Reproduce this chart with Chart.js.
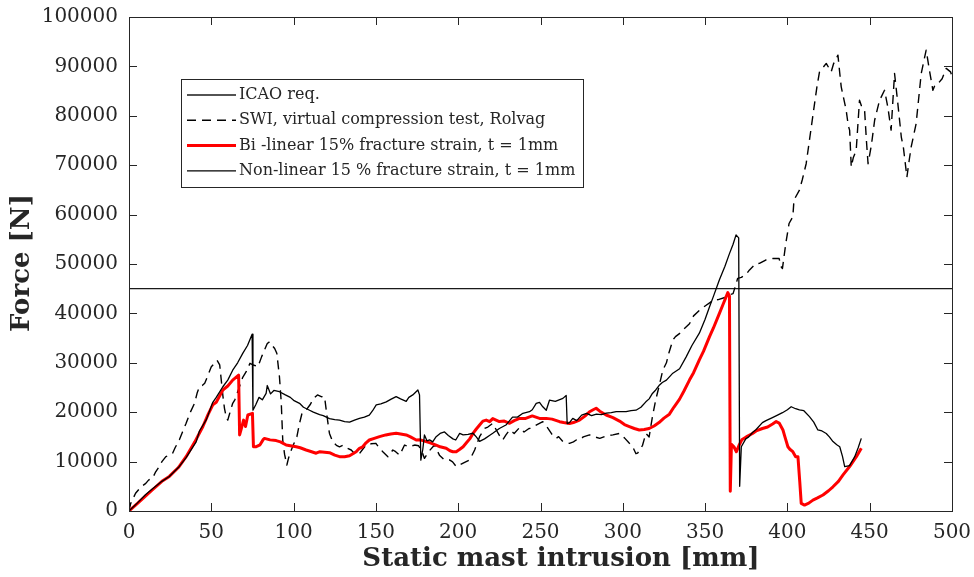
<!DOCTYPE html>
<html>
<head>
<meta charset="utf-8">
<script src="https://cdn.jsdelivr.net/npm/chart.js@4.4.1/dist/chart.umd.min.js"></script>
<style>
  html, body { margin: 0; padding: 0; background: #ffffff; }
  canvas { display: block; }
</style>
</head>
<body>
<canvas id="chart" width="974" height="577"></canvas>
<script>
// Axis ticks
const xTicks = [0, 50, 100, 150, 200, 250, 300, 350, 400, 450, 500];
const yTicks = [0, 10000, 20000, 30000, 40000, 50000, 60000, 70000, 80000, 90000, 100000];

// Axis titles
const xTitle = 'Static mast intrusion [mm]';
const yTitle = 'Force [N]';

// ICAO requirement (constant force level)
const icaoX = [0, 500];
const icaoY = [45000, 45000];

// SWI, virtual compression test, Rolvag
const swiX = [0, 1, 4, 7, 10.2, 12, 14.3, 16, 18.4, 20, 22.4, 24.5, 26.5, 28, 30.6, 32.5, 34.7, 37, 39.8, 41.5,
  42.9, 44.5, 46, 48, 50, 52, 53.5, 55.1, 57.1, 58, 59.2, 60, 61.2, 63, 64.3, 67.1, 69, 71.2, 73.5, 76,
  78.3, 80.6, 82.3, 84, 85.4, 87, 88.5, 89.8, 91.4, 92.5, 93.4, 94.5, 95.9, 97, 98.6, 100, 102, 103.6, 105.1, 107.6,
  110, 112.2, 114.5, 116.8, 118.8, 120, 121.3, 121.8, 123.8, 126, 127.9, 130, 132, 135, 138, 140, 142, 144, 147, 150,
  152, 154.2, 157.3, 160.3, 162, 164.4, 167.4, 170, 173.5, 176, 178, 179.5, 182, 185.6, 188.6, 191.7, 194.7, 196.6, 198.8, 200.6,
  203, 207, 210, 213, 216, 218, 221, 223, 225, 227, 229, 231.2, 234, 237.3, 240, 243, 244.3, 247, 251.4, 254,
  257, 259.5, 261, 263.6, 267.6, 270, 271.7, 273.7, 276, 279.8, 283, 286, 290, 294, 298, 301, 304, 306, 308, 309,
  312, 314, 316, 318, 320, 322, 324.3, 326.5, 328, 330.4, 332, 334.4, 337, 340.5, 343, 346.5, 350, 354.7, 358, 362.8,
  365, 367, 369.8, 372, 374.7, 377, 380.8, 383, 386.8, 391, 395, 396, 397, 399, 401, 403.3, 404, 407.3, 409, 411.4,
  413.4, 416.5, 418, 419.5, 421, 423.6, 425, 426.6, 428, 430.7, 432, 432.7, 435.7, 437, 437.8, 438.8, 440, 441.8, 443.8, 445,
  446.9, 448, 449, 451, 453, 456, 459, 461, 463, 465.1, 467.1, 469.2, 470.5, 472.6, 474, 475.2, 478.2, 481.3, 484.3, 486.3,
  488.4, 490, 492.4, 494, 496.5, 499.1, 500];
const swiY = [0, 1500, 3580, 4800, 5600, 6300, 6600, 7800, 9000, 10000, 11000, 11300, 11700, 12800, 14400, 16000, 17750, 19800, 21800, 24000,
  25200, 25400, 25850, 27500, 29200, 29900, 30500, 29570, 23150, 20780, 18770, 18400, 19780, 21800, 22500, 25150, 27000, 28200, 29900, 29500,
  29200, 31250, 32590, 33900, 34260, 33500, 32900, 31930, 27180, 22000, 14370, 11500, 9310, 10800, 12350, 13500, 15050, 17750, 19780, 20440,
  21500, 22800, 23500, 23140, 23150, 20000, 16700, 15700, 14000, 13300, 13000, 13300, 12800, 12350, 11300, 11600, 12500, 13350, 13600, 13700,
  12800, 12000, 11000, 12350, 12000, 11300, 13350, 13000, 13350, 13200, 12000, 10650, 12000, 13350, 11300, 10300, 10330, 9950, 9000, 9300,
  9700, 10330, 12350, 15050, 16700, 17000, 17750, 16500, 15300, 14370, 15400, 16400, 15700, 16900, 16000, 16700, 16730, 17300, 18080, 17000,
  15500, 14700, 15050, 14040, 13700, 14000, 14370, 14400, 15000, 15400, 15000, 14700, 15200, 15400, 15700, 14800, 13700, 13000, 11600, 11700,
  13300, 15700, 15000, 19100, 22500, 25200, 28500, 30000, 32000, 34600, 35300, 35900, 36800, 37900, 39500, 40600, 41500, 42600, 42800, 43300,
  43800, 44000, 47100, 47300, 47800, 48800, 50100, 50120, 50800, 51100, 51100, 49500, 49100, 54100, 58200, 59550, 62950, 64950, 67000, 70300,
  75070, 82470, 86000, 88900, 89500, 90600, 89800, 88900, 90500, 92270, 88000, 85860, 81140, 78000, 77100, 69640, 71500, 73000, 83140, 82000,
  81140, 75000, 70300, 74000, 79100, 83140, 85170, 81800, 77100, 88570, 82470, 75700, 73500, 67600, 71000, 73700, 78400, 88560, 93300, 89200,
  85170, 86500, 86860, 87500, 89600, 88900, 88000];

// Bi-linear 15% fracture strain, t = 1mm
const biX = [0, 5, 10, 14.3, 20, 24.5, 30, 34.7, 40, 44.9, 48, 50.9, 53, 57, 60, 63, 66.6, 67.2, 68.5, 69.6,
  70.8, 72.2, 75, 75.6, 77, 79.6, 81.6, 82.3, 85.7, 89.4, 92, 95.5, 98, 101.6, 104, 107.6, 110, 113.7, 116, 121.8,
  125, 127.9, 131, 134, 136, 138, 140, 142, 144, 146, 149, 152.2, 156, 159, 162.3, 165, 168.4, 171, 174.5, 177,
  180.5, 183, 186.6, 189, 192.7, 195, 196.8, 198.8, 201, 203, 205, 207, 209, 211, 213, 215, 217, 219.1, 221, 225,
  228, 231.2, 234, 237.3, 241, 245, 249.4, 253.5, 257, 261.6, 264, 267.6, 270, 273.7, 277, 279.8, 282, 283.8, 286, 289.9,
  294, 298, 301, 304, 307, 310, 313, 316, 319, 322, 325, 328.3, 331, 334.4, 337, 340.5, 343, 346.5, 349, 352.7,
  355, 358.7, 361, 363.8, 364.8, 365.3, 366, 367.5, 369, 370.5, 372.3, 375, 378.8, 381, 384.8, 388, 391, 393.2, 395, 397.3,
  398.5, 400.3, 401.5, 403.3, 405, 406.4, 407.5, 408.4, 410.4, 413, 415.5, 418, 421.6, 425, 427.7, 431, 433.8, 437.8, 441.9, 444.9];
const biY = [0, 1500, 3000, 4300, 6000, 7000, 8800, 11000, 14000, 17100, 19500, 21500, 22000, 24500, 25300, 26500, 27500, 15400, 17000, 18400,
  17100, 19440, 19770, 13000, 13000, 13400, 14500, 14700, 14400, 14250, 14000, 13350, 13200, 13000, 12800, 12350, 12100, 11700, 12000, 11800,
  11300, 11000, 11000, 11200, 11600, 12000, 12700, 13000, 13800, 14370, 14700, 15050, 15400, 15600, 15740, 15600, 15400, 15000, 14370, 14400,
  14040, 13800, 13350, 13000, 12700, 12200, 12000, 12000, 12500, 13000, 13800, 14600, 15700, 16600, 17400, 18200, 18400, 18080, 18700, 18100,
  18200, 17750, 18300, 18750, 18750, 19250, 18750, 18750, 18600, 18080, 17900, 17700, 17900, 18400, 19200, 20100, 20500, 20800, 20200, 19430,
  18900, 18200, 17500, 17100, 16700, 16400, 16500, 16700, 17200, 17900, 18800, 19600, 21000, 22600, 24200, 26500, 28000, 30600, 32300, 35300,
  37000, 40000, 41900, 44200, 43500, 4000, 13500, 13000, 12000, 13200, 14400, 15000, 15700, 16200, 16700, 17000, 17600, 18100, 17800, 16400,
  15000, 13000, 12500, 12000, 11000, 11000, 6000, 1550, 1200, 1600, 2200, 2600, 3240, 4100, 4900, 6000, 7300, 9000, 11000, 12700];

// Non-linear 15 % fracture strain, t = 1mm
const nonX = [0, 5, 10, 14.3, 20, 24.5, 30, 34.7, 40.8, 42.8, 47, 50.9, 53, 57, 60, 63, 66, 69.1, 72, 74.8,
  75.3, 77, 79, 81, 83.3, 84, 86, 88, 91.4, 95, 98, 100, 103.6, 106, 109.7, 112, 115.8, 118, 121.8, 125,
  127.9, 131, 134, 137, 140, 143, 146, 148, 150.2, 153, 156.3, 159, 162.3, 165, 168.4, 170, 172.4, 175.5, 176.5, 177.3,
  178.5, 179.5, 181, 182.6, 184.5, 186.6, 189, 191.7, 194, 196.8, 198.5, 200.9, 203, 206, 209, 211, 213, 216, 219, 221,
  225, 229, 233, 236, 239.3, 243.3, 245, 247.4, 249.4, 251.4, 253.5, 255.5, 259, 263.6, 265.6, 266.2, 267.6, 269.6, 272, 275,
  278, 281, 284, 287, 290, 293, 296, 299, 302, 305, 308, 311, 314, 316, 318, 320, 322, 324, 326.5, 330.4,
  334.5, 338.5, 342, 346.5, 350, 352.7, 355, 358.7, 362, 364.8, 367, 368.8, 370.4, 371, 372, 374.7, 376.5, 378.8, 381, 384.8,
  387, 390.9, 394, 397, 400, 402.3, 405, 407.3, 410, 413.4, 416, 418.5, 421, 423.6, 425.5, 427.7, 430, 431.8, 433.5, 434.8,
  437.8, 440.9, 443, 444.9];
const nonY = [0, 1600, 3300, 4500, 6000, 7000, 8800, 10800, 14000, 16200, 18500, 22000, 23000, 25150, 26500, 28500, 30000, 31900, 33500, 35800,
  20400, 21500, 23000, 22500, 23800, 25400, 23700, 24400, 24150, 23500, 23000, 22400, 21800, 21000, 20400, 20000, 19500, 19300, 18700, 18500,
  18400, 18100, 18000, 18400, 18750, 19000, 19400, 20300, 21500, 21700, 22100, 22600, 23150, 22700, 22200, 23000, 23500, 24500, 23500, 10300,
  12500, 15400, 14200, 14400, 14000, 15050, 15700, 16000, 15300, 14600, 14370, 15700, 15400, 15500, 15740, 15000, 14100, 14600, 15300, 15740,
  16700, 17400, 19000, 19000, 19770, 20100, 20500, 21800, 22000, 21100, 20400, 22460, 22200, 22800, 23400, 17700, 17900, 18750, 18300, 19400,
  19770, 19300, 19600, 19500, 19800, 19900, 20100, 20100, 20100, 20300, 20400, 21000, 22100, 22700, 23800, 24500, 25400, 26000, 26500, 27900,
  28800, 31200, 33500, 36000, 38800, 41360, 43400, 46800, 49500, 52100, 54000, 55900, 55300, 5000, 13000, 14600, 15000, 15900, 16500, 17900,
  18300, 18900, 19400, 19900, 20500, 21100, 20700, 20450, 20300, 19100, 18000, 16400, 16200, 15700, 15000, 14050, 13400, 13000, 11000, 9000,
  9200, 11000, 12800, 14700];

const seriesLabels = [
  'ICAO req.',
  'SWI, virtual compression test, Rolvag',
  'Bi -linear 15% fracture strain, t = 1mm',
  'Non-linear 15 % fracture strain, t = 1mm'
];

const toPoints = (xs, ys) => xs.map((v, i) => ({ x: v, y: ys[i] }));

const TEXT = '#262626';
const SERIF = '"DejaVu Serif", "Liberation Serif", serif';

// Box around the axes with inward ticks on all four sides, axis titles and the boxed legend
const axesBox = {
  id: 'axesBox',
  afterDatasetsDraw(chart) {
    const { ctx, chartArea: a, scales: { x, y } } = chart;
    const len = 8;
    ctx.save();
    ctx.strokeStyle = TEXT;
    ctx.lineWidth = 1;
    ctx.beginPath();
    x.ticks.forEach(t => {
      const px = Math.round(x.getPixelForValue(t.value)) + 0.5;
      ctx.moveTo(px, a.bottom); ctx.lineTo(px, a.bottom - len);
      ctx.moveTo(px, a.top); ctx.lineTo(px, a.top + len);
    });
    y.ticks.forEach(t => {
      const py = Math.round(y.getPixelForValue(t.value)) + 0.5;
      ctx.moveTo(a.left, py); ctx.lineTo(a.left + len, py);
      ctx.moveTo(a.right, py); ctx.lineTo(a.right - len, py);
    });
    ctx.stroke();
    ctx.strokeRect(Math.round(a.left) + 0.5, Math.round(a.top) + 0.5,
      Math.round(a.right - a.left), Math.round(a.bottom - a.top));

    // axis titles
    ctx.fillStyle = TEXT;
    ctx.font = 'bold 26px ' + SERIF;
    ctx.textAlign = 'center';
    ctx.textBaseline = 'middle';
    ctx.fillText(xTitle, a.left + 432, a.bottom + 48);
    ctx.save();
    ctx.translate(22, a.top + 246);
    ctx.rotate(-Math.PI / 2);
    ctx.fillText(yTitle, 0, 0);
    ctx.restore();

    // legend
    const bx = a.left + 52, by = a.top + 62, bw = 402, bh = 108;
    ctx.fillStyle = '#ffffff';
    ctx.fillRect(bx, by, bw, bh);
    ctx.strokeStyle = TEXT;
    ctx.lineWidth = 1;
    ctx.strokeRect(Math.round(bx) + 0.5, Math.round(by) + 0.5, bw, bh);
    ctx.font = '16px ' + SERIF;
    ctx.textBaseline = 'middle';
    ctx.textAlign = 'left';
    chart.data.datasets.forEach((ds, i) => {
      const ry = by + 16 + i * 25.3;
      ctx.save();
      ctx.strokeStyle = ds.borderColor;
      ctx.lineWidth = ds.borderWidth;
      ctx.setLineDash(ds.borderDash || []);
      ctx.beginPath();
      ctx.moveTo(bx + 6, ry);
      ctx.lineTo(bx + 55, ry);
      ctx.stroke();
      ctx.restore();
      ctx.fillStyle = TEXT;
      ctx.fillText(ds.label, bx + 58, ry);
    });
    ctx.restore();
  }
};

new Chart(document.getElementById('chart'), {
  type: 'line',
  data: {
    datasets: [
      { label: seriesLabels[0], data: toPoints(icaoX, icaoY), borderColor: '#1a1a1a', borderWidth: 1.3, order: 3 },
      { label: seriesLabels[1], data: toPoints(swiX, swiY), borderColor: '#000000', borderWidth: 1.4, borderDash: [9, 6], order: 2 },
      { label: seriesLabels[2], data: toPoints(biX, biY), borderColor: '#ff0000', borderWidth: 3, order: 1 },
      { label: seriesLabels[3], data: toPoints(nonX, nonY), borderColor: '#000000', borderWidth: 1.3, order: 0 }
    ]
  },
  options: {
    responsive: false,
    animation: false,
    devicePixelRatio: 1,
    elements: { point: { radius: 0 }, line: { tension: 0, borderCapStyle: 'butt', borderJoinStyle: 'round' } },
    layout: { padding: { left: 0, right: 22, top: 17, bottom: 0 } },
    plugins: { legend: { display: false }, tooltip: { enabled: false } },
    scales: {
      x: {
        type: 'linear',
        min: xTicks[0],
        max: xTicks[xTicks.length - 1],
        afterBuildTicks: s => { s.ticks = xTicks.map(v => ({ value: v })); },
        afterFit: s => { s.height = 66; s.paddingLeft = 0; s.paddingRight = 0; },
        grid: { display: false },
        border: { display: false },
        ticks: {
          color: TEXT, padding: 2, maxRotation: 0, autoSkip: false,
          font: { family: SERIF, size: 20 },
          callback: v => String(v)
        },
        title: { display: false }
      },
      y: {
        type: 'linear',
        min: yTicks[0],
        max: yTicks[yTicks.length - 1],
        afterBuildTicks: s => { s.ticks = yTicks.map(v => ({ value: v })); },
        afterFit: s => { s.width = 129; s.paddingTop = 0; s.paddingBottom = 0; },
        grid: { display: false },
        border: { display: false },
        ticks: {
          color: TEXT, padding: 3, autoSkip: false,
          font: { family: SERIF, size: 20 },
          callback: v => String(v)
        },
        title: { display: false }
      }
    }
  },
  plugins: [axesBox]
});
</script>
</body>
</html>
